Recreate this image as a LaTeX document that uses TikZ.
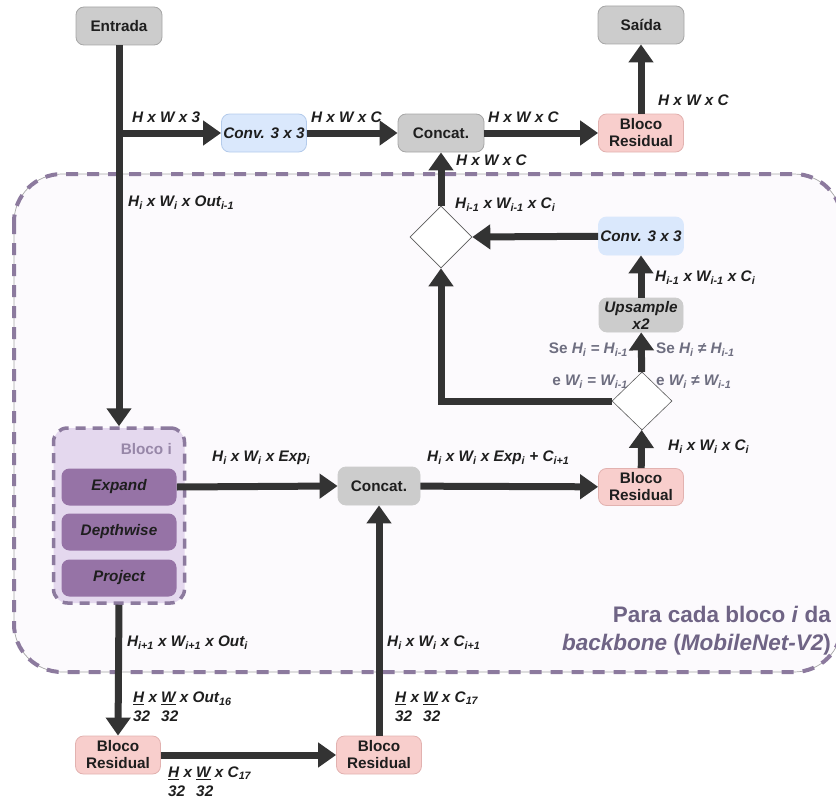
\documentclass[tikz,border=0pt]{standalone}
\usepackage{fontspec}
\setmainfont{Liberation Sans}
\usetikzlibrary{shapes.geometric,arrows.meta}

\definecolor{ink}{HTML}{333333}
\definecolor{boxtext}{HTML}{1E1E1E}
\definecolor{grayfill}{HTML}{CCCCCC}
\definecolor{graydraw}{HTML}{A6A6A6}
\definecolor{bluefill}{HTML}{DAE8FC}
\definecolor{bluedraw}{HTML}{B4CBEB}
\definecolor{pinkfill}{HTML}{F8CECC}
\definecolor{pinkdraw}{HTML}{E2B2B0}
\definecolor{lilac}{HTML}{E4D8EE}
\definecolor{purple}{HTML}{9673A6}
\definecolor{dashcol}{HTML}{8C7A9E}
\definecolor{regionfill}{HTML}{FCFAFD}
\definecolor{condgray}{HTML}{6E6E80}
\definecolor{titlecol}{HTML}{6F6485}

\tikzset{
  boxbase/.style={font=\fontsize{15.3}{17}\selectfont\bfseries, text=boxtext,
    align=center, rounded corners=8pt, inner sep=0pt, line width=0.8pt},
  graybox/.style={boxbase, fill=grayfill, draw=graydraw,
    minimum width=86pt, minimum height=38pt},
  bluebox/.style={boxbase, fill=bluefill, draw=bluedraw,
    minimum width=85pt, minimum height=38pt, font=\fontsize{15.3}{17}\selectfont\bfseries\itshape},
  pinkbox/.style={boxbase, fill=pinkfill, draw=pinkdraw,
    minimum width=85pt, minimum height=38pt},
  layerbox/.style={boxbase, fill=purple, draw=none, text=boxtext,
    minimum width=115pt, minimum height=37pt, font=\fontsize{15.3}{17}\selectfont\bfseries\itshape},
  decision/.style={diamond, draw=ink!80, fill=white, line width=0.6pt,
    inner sep=0pt, minimum width=62pt, minimum height=62pt},
  lab/.style={font=\fontsize{15.3}{19}\selectfont\bfseries\itshape, text=boxtext, inner sep=0pt},
  cond/.style={font=\fontsize{15.3}{19}\selectfont\bfseries, text=condgray, inner sep=0pt},
  arr/.style={draw=ink, line width=7pt, -{Triangle[length=18pt,width=24pt]}},
}

\begin{document}
\begin{tikzpicture}[x=1pt,y=-1pt]
\useasboundingbox (0,0) rectangle (836,800);
\clip (0,0) rectangle (836,800);

% region repeated for every backbone block
\fill[regionfill, rounded corners=48pt] (14,174) rectangle (842,672);
\draw[graydraw, line width=0.7pt, rounded corners=48pt] (14,174) rectangle (842,672);
\draw[dashcol, line width=4pt, dash pattern=on 12pt off 9pt, rounded corners=48pt]
  (14,174) rectangle (842,672);

% main nodes
\node[graybox] (in) at (119,26) {Entrada};
\node[graybox] (out) at (641,25) {Saída};
\node[bluebox] (conv1) at (264,133) {Conv. 3 x 3};
\node[graybox] (cat1) at (441,133) {Concat.};
\node[pinkbox] (res1) at (641,133) {Bloco\\Residual};

\node[decision] (dmU) at (441,237) {};
\node[bluebox, draw=bluefill] (conv2) at (641,236) {Conv. 3 x 3};
\node[graybox, draw=grayfill, minimum width=84pt, minimum height=34pt,
  font=\fontsize{15.3}{17}\selectfont\bfseries\itshape] (ups) at (641,315) {Upsample\\x2};
\node[decision, minimum width=60pt, minimum height=58pt] (dmL) at (642,401) {};
\node[pinkbox, minimum height=37pt] (res2) at (641,487) {Bloco\\Residual};
\node[graybox, draw=grayfill, minimum width=82pt] (cat2) at (379,486) {Concat.};

% inverted residual block
\node[boxbase, fill=lilac, draw=dashcol, line width=3.5pt, dash pattern=on 10pt off 7pt,
  rounded corners=14pt, minimum width=131pt, minimum height=175pt] (blk) at (119,515.5) {};
\node[font=\fontsize{15.3}{17}\selectfont\bfseries, text=dashcol!90, anchor=east, inner sep=0pt]
  (blktitle) at (172,449) {Bloco i};
\node[layerbox] (exp) at (119,487) {Expand};
\node[layerbox] (dep) at (119,532) {Depthwise};
\node[layerbox] (prj) at (119,578) {Project};

\node[pinkbox] (res3) at (118,755) {Bloco\\Residual};
\node[pinkbox] (res4) at (379,755) {Bloco\\Residual};

% connectors
\coordinate (br) at (119,133);
\draw[arr] (in) -- (blk.north);
\draw[arr] (br) -- (conv1);
\draw[arr] (conv1) -- (cat1);
\draw[arr] (cat1) -- (res1);
\draw[arr] (res1) -- (out);
\draw[arr] (exp.east) -- (cat2.west);
\draw[arr] (cat2) -- (res2);
\draw[arr] (res2) -- (dmL);
\draw[arr] (dmL) -- (ups);
\draw[arr] (ups) -- (conv2);
\draw[arr] (conv2) -- (dmU.east);
\draw[arr] (dmL.west) -| (dmU.south);
\draw[arr] (dmU) -- (cat1);
\draw[arr] (blk.south) -- (res3.north);
\draw[arr] (res3) -- (res4);
\draw[arr] (res4) -- (cat2);

% tensor shapes
\node[lab, anchor=west] (l1) at (132,117) {H x W x 3};
\node[lab, anchor=west] (l2) at (311,117) {H x W x C};
\node[lab, anchor=west] (l3) at (488,117) {H x W x C};
\node[lab, anchor=west] (l4) at (658,100) {H x W x C};
\node[lab, anchor=west] (l5) at (456,160) {H x W x C};
\node[lab, anchor=west] (l6) at (128,203)
  {H\textsubscript{i} x W\textsubscript{i} x Out\textsubscript{i-1}};
\node[lab, anchor=west] (l7) at (455,205)
  {H\textsubscript{i-1} x W\textsubscript{i-1} x C\textsubscript{i}};
\node[lab, anchor=west] (l8) at (655,278)
  {H\textsubscript{i-1} x W\textsubscript{i-1} x C\textsubscript{i}};
\node[cond, anchor=east] (c1) at (628,350) {Se \textit{H\textsubscript{i} = H\textsubscript{i-1}}};
\node[cond, anchor=east] (c2) at (628,382) {e \textit{W\textsubscript{i} = W\textsubscript{i-1}}};
\node[cond, anchor=west] (c3) at (656,350) {Se \textit{H\textsubscript{i} ≠ H\textsubscript{i-1}}};
\node[cond, anchor=west] (c4) at (656,382) {e \textit{W\textsubscript{i} ≠ W\textsubscript{i-1}}};
\node[lab, anchor=west] (l9) at (668,447)
  {H\textsubscript{i} x W\textsubscript{i} x C\textsubscript{i}};
\node[lab, anchor=west] (l10) at (427,458)
  {H\textsubscript{i} x W\textsubscript{i} x Exp\textsubscript{i} + C\textsubscript{i+1}};
\node[lab, anchor=west] (l11) at (212,458)
  {H\textsubscript{i} x W\textsubscript{i} x Exp\textsubscript{i}};
\node[lab, anchor=west] (l12) at (127,643)
  {H\textsubscript{i+1} x W\textsubscript{i+1} x Out\textsubscript{i}};
\node[lab, anchor=west] (l13) at (387,643)
  {H\textsubscript{i} x W\textsubscript{i} x C\textsubscript{i+1}};
\node[lab, anchor=north west] (l14) at (133,689)
  {\begin{tabular}{@{}l@{}l@{}}\mbox{\underline{H} x\ } & \underline{W} x Out\textsubscript{16}\\ 32 & 32\end{tabular}};
\node[lab, anchor=north west] (l15) at (395,689)
  {\begin{tabular}{@{}l@{}l@{}}\mbox{\underline{H} x\ } & \underline{W} x C\textsubscript{17}\\ 32 & 32\end{tabular}};
\node[lab, anchor=north west] (l16) at (168,764)
  {\begin{tabular}{@{}l@{}l@{}}\mbox{\underline{H} x\ } & \underline{W} x C\textsubscript{17}\\ 32 & 32\end{tabular}};

% region caption
\node[font=\fontsize{22.5}{28}\selectfont\bfseries, text=titlecol, align=right,
  anchor=east, inner sep=0pt] (cap) at (831,631)
  {Para cada bloco \textit{i} da\\\textit{backbone} (\textit{MobileNet-V2})};
\end{tikzpicture}
\end{document}
